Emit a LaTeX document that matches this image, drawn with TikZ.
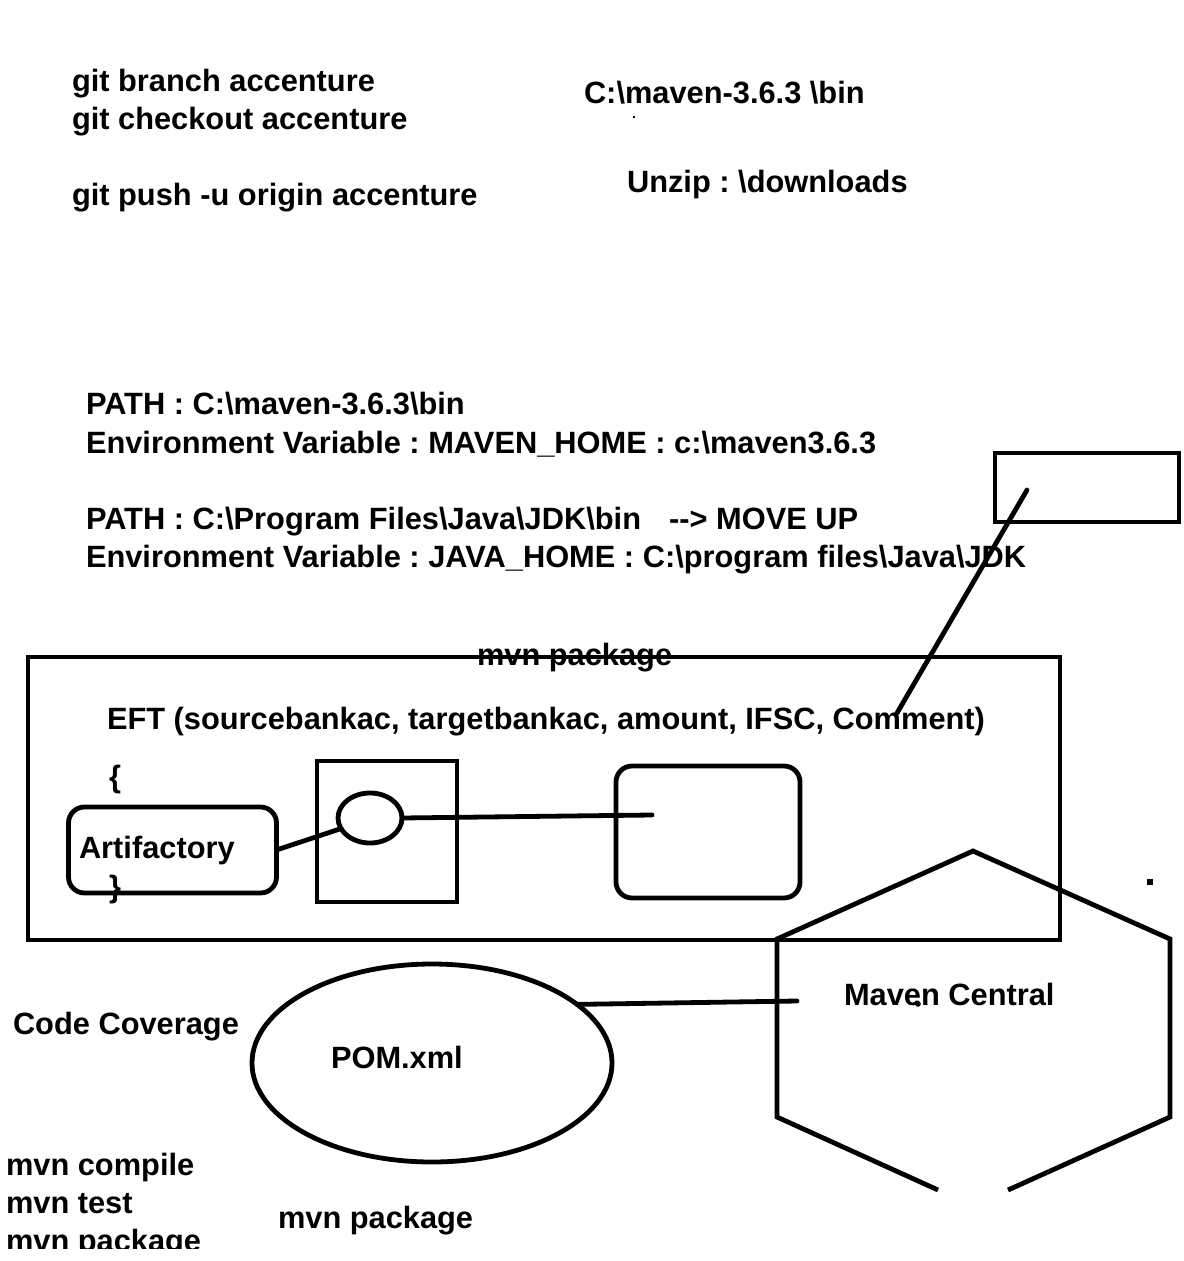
\documentclass[tikz,border=0pt]{standalone}
\usepackage{fontspec}
\setmainfont{Liberation Sans}
\usetikzlibrary{shapes.geometric}
\frenchspacing
\begin{document}
\begin{tikzpicture}[x=0.5pt,y=-0.5pt,line width=2.4pt,
  every node/.style={inner sep=0pt,outer sep=0pt,font=\bfseries\fontsize{15.4}{18}\selectfont},
  lbl/.style={anchor=base west},
  box/.style={draw,rectangle,line width=2.4pt},
  rbox/.style={draw,rectangle,rounded corners=8pt,line width=2.4pt},
  oval/.style={draw,ellipse,line width=2.4pt},
  conn/.style={line width=2.4pt,line cap=round}]
\useasboundingbox (0,0) rectangle (1183,1261);
\fill[white] (0,0) rectangle (1183,1261);

% top texts
\node[lbl] (t1) at (72,92) {git branch accenture};
\node[lbl] (t2) at (72,130) {git checkout accenture};
\node[lbl] (t3) at (72,206) {git push -u origin accenture};
\node[lbl] (t4) at (584,104) {C:\textbackslash maven-3.6.3 \textbackslash bin};
\fill (633,116) rectangle (635,118);
\node[lbl] (t5) at (627,193) {Unzip : \textbackslash downloads};

\node[lbl] (p1) at (86,415) {PATH : C:\textbackslash maven-3.6.3\textbackslash bin};
\node[lbl] (p2) at (86,453) {Environment Variable : MAVEN\_HOME : c:\textbackslash maven3.6.3};
\node[lbl] (p3) at (86,529) {PATH : C:\textbackslash Program Files\textbackslash Java\textbackslash JDK\textbackslash bin\hspace{14pt}-{}-> MOVE UP};
\node[lbl] (p4) at (86,567) {Environment Variable : JAVA\_HOME : C:\textbackslash program files\textbackslash Java\textbackslash JDK};

% small box upper right
\node[box,minimum width=92pt,minimum height=34.5pt] (sb) at (1087,487.5) {};

% big box
\node[box,minimum width=516pt,minimum height=141.5pt] (big) at (544,798.5) {};
\node[lbl] (mp1) at (477,665) {mvn package};
\draw[line width=2.4pt] (big.north west) -- (big.north east);
\node[lbl] (eft) at (107,729) {EFT (sourcebankac, targetbankac, amount, IFSC, Comment)};
\node[lbl] (lb) at (109,787) {\{};
\node[rbox,minimum width=104pt,minimum height=43pt] (art) at (172.5,850) {};
\node[lbl] (artt) at (79,858) {Artifactory};
\node[lbl] (rb) at (109,897) {\}};
\node[box,minimum width=70pt,minimum height=70.5pt] (sq) at (387,831.5) {};
\node[oval,minimum width=32pt,minimum height=25pt] (ell) at (370,818) {};
\node[rbox,minimum width=92pt,minimum height=66pt] (rr) at (708,832) {};
\coordinate (rrin) at (652,815);
\draw[conn] (art.east) -- (ell.200);
\draw[conn] (ell.east) -- (rrin);

% connector from small box to Comment
\coordinate (sbin) at (1027,490);
\coordinate (cm) at (897,713);
\draw[conn] (sbin) -- (cm);

% stray dot
\fill (1147,879) rectangle (1153,885);

% hexagon (bottom cut off)
\coordinate (h1) at (938,1190);
\coordinate (h2) at (777,1117);
\coordinate (h3) at (777,939);
\coordinate (h4) at (973,851);
\coordinate (h5) at (1170,939);
\coordinate (h6) at (1170,1117);
\coordinate (h7) at (1008,1190);
\draw[line width=2.4pt,line join=miter] (h1) -- (h2) -- (h3) -- (h4) -- (h5) -- (h6) -- (h7);
\node[lbl] (mc) at (844,1005) {Maven Central};
\fill (918,1004) circle (1.4pt);

% POM
\node[oval,minimum width=180pt,minimum height=99pt] (pom) at (432,1063) {};
\node[lbl] (pomt) at (331,1068) {POM.xml};
\coordinate (hexin) at (797,1001);
\draw[conn] (pom.22) -- (hexin);

\node[lbl] (cc) at (13,1034) {Code Coverage};
\node[lbl] (m1) at (6,1175) {mvn compile};
\node[lbl] (m2) at (6,1213) {mvn test};
\node[lbl] (m3) at (6,1251) {mvn package};
\node[lbl] (m4) at (278,1228) {mvn package};
\fill[white] (0,1249) rectangle (300,1261);
\end{tikzpicture}
\end{document}
